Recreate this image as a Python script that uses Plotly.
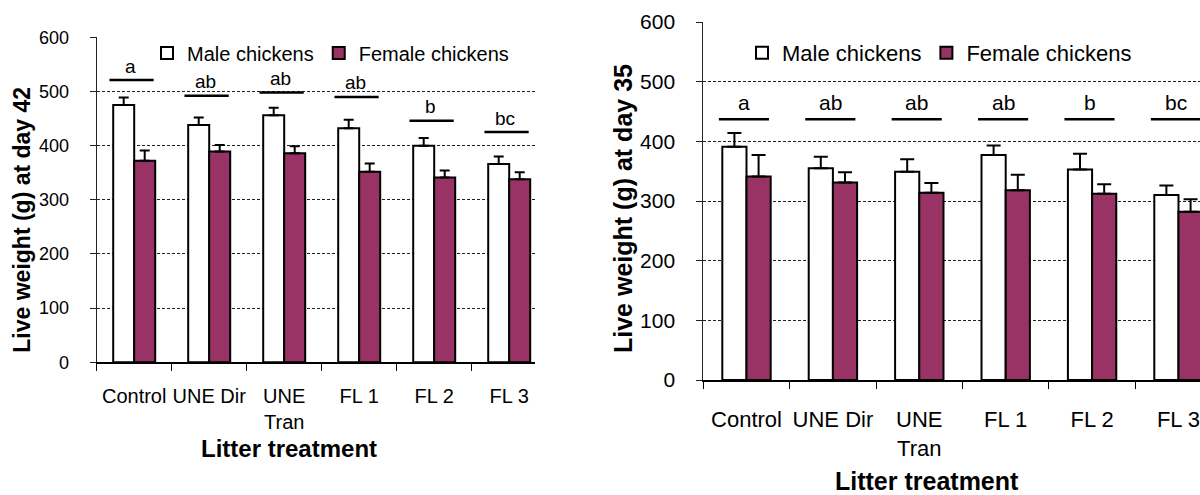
import plotly.graph_objects as go

# ---------------- data ----------------
categories = ["Control", "UNE Dir", "UNE<br>Tran", "FL 1", "FL 2", "FL 3"]
series_names = ["Male chickens", "Female chickens"]

# Day 42 (left panel)
male_42 = [475, 438, 456, 432, 400, 366]
male_42_err = [14, 14, 14, 16, 14, 14]
female_42 = [372, 389, 386, 352, 341, 338]
female_42_err = [19, 12, 13, 15, 13, 13]
letters_42 = ["a", "ab", "ab", "ab", "b", "bc"]
letter_level_42 = [521, 492, 498, 490, 446, 425]

# Day 35 (right panel)
male_35 = [391, 355, 349, 377, 353, 310]
male_35_err = [23, 19, 21, 16, 26, 16]
female_35 = [341, 331, 314, 318, 312, 282]
female_35_err = [36, 17, 16, 26, 16, 21]
letters_35 = ["a", "ab", "ab", "ab", "b", "bc"]
letter_level_35 = [437, 437, 437, 437, 437, 437]

y_ticks = [0, 100, 200, 300, 400, 500, 600]

# ---------------- styling ----------------
W, H = 1200, 495
FONT = "Liberation Sans, Arial, sans-serif"
FEMALE = "#993366"
MALE = "#FFFFFF"


def px_x(p):
    return p / W


def px_y(p):
    return 1 - p / H


fig = go.Figure()

panels = [
    dict(xa="x", ya="y", legend="legend", male=male_42, male_e=male_42_err,
         female=female_42, female_e=female_42_err, letters=letters_42,
         levels=letter_level_42, cap=5, lfont=19, off=(-0.33, 0.26), toff=-0.05, yshift=14),
    dict(xa="x2", ya="y2", legend="legend2", male=male_35, male_e=male_35_err,
         female=female_35, female_e=female_35_err, letters=letters_35,
         levels=letter_level_35, cap=7, lfont=21, off=(-0.32, 0.26), toff=-0.03, yshift=17),
]

for p in panels:
    for name, vals, errs, color in [
        (series_names[0], p["male"], p["male_e"], MALE),
        (series_names[1], p["female"], p["female_e"], FEMALE),
    ]:
        fig.add_trace(go.Bar(
            x=categories, y=vals, name=name,
            xaxis=p["xa"], yaxis=p["ya"], legend=p["legend"],
            marker=dict(color=color, line=dict(color="black", width=2)),
            error_y=dict(type="data", array=errs, arrayminus=[0] * len(errs),
                         symmetric=False, color="black", thickness=2, width=p["cap"]),
        ))
    # significance lines and letters
    for i, (lt, lv) in enumerate(zip(p["letters"], p["levels"])):
        fig.add_shape(type="line", xref=p["xa"], yref=p["ya"],
                      x0=i + p["off"][0], x1=i + p["off"][1], y0=lv, y1=lv,
                      line=dict(color="black", width=2.5))
        fig.add_annotation(xref=p["xa"], yref=p["ya"], x=i + p["toff"], y=lv,
                           text=lt, showarrow=False, yshift=p["yshift"],
                           yanchor="middle",
                           font=dict(family=FONT, size=p["lfont"], color="black"))

axis_common_y = dict(
    range=[0, 600], tickvals=y_ticks, showgrid=True, gridcolor="#222222",
    gridwidth=1, griddash="3px,2px", zeroline=False, showline=True,
    linecolor="#222222", linewidth=1, ticks="outside", ticklen=6,
    tickcolor="#222222", fixedrange=True, automargin=False,
)
axis_common_x = dict(
    type="category", showgrid=False, zeroline=False, showline=True,
    linecolor="black", linewidth=2, ticks="outside", ticklen=7,
    tickson="boundaries", tickcolor="black", fixedrange=True,
    tickangle=0, automargin=False,
)

fig.update_layout(
    width=W, height=H,
    margin=dict(l=0, r=0, t=0, b=0, pad=0, autoexpand=False),
    paper_bgcolor="white", plot_bgcolor="white",
    barmode="group", bargap=0.44, bargroupgap=0,
    font=dict(family=FONT, color="black"),
    xaxis=dict(**axis_common_x, domain=[px_x(96.7), px_x(535)],
               range=[-0.5, 5.344], anchor="y",
               tickfont=dict(size=20), ticklabelstandoff=15),
    yaxis=dict(**axis_common_y, domain=[px_y(362.3), px_y(37.3)], anchor="x",
               tickfont=dict(size=18), ticklabelstandoff=17),
    xaxis2=dict(**axis_common_x, domain=[px_x(703.3), 1.0],
                range=[-0.5, 5.249], anchor="y2",
                tickfont=dict(size=22), ticklabelstandoff=19),
    yaxis2=dict(**axis_common_y, domain=[px_y(380), px_y(22)], anchor="x2",
                tickfont=dict(size=21), ticklabelstandoff=17),
    legend=dict(orientation="h", x=px_x(147), y=px_y(53), xanchor="left",
                yanchor="middle", font=dict(size=20, family=FONT),
                bgcolor="rgba(0,0,0,0)", itemwidth=30,
                traceorder="normal"),
    legend2=dict(orientation="h", x=px_x(742), y=px_y(53), xanchor="left",
                 yanchor="middle", font=dict(size=22, family=FONT),
                 bgcolor="rgba(0,0,0,0)", itemwidth=30,
                 traceorder="normal"),
    showlegend=True,
)

# axis titles
fig.add_annotation(xref="paper", yref="paper", x=px_x(289), y=px_y(448),
                   text="<b>Litter treatment</b>", showarrow=False,
                   font=dict(size=24, family=FONT), xanchor="center", yanchor="middle")
fig.add_annotation(xref="paper", yref="paper", x=px_x(927), y=px_y(481),
                   text="<b>Litter treatment</b>", showarrow=False,
                   font=dict(size=25, family=FONT), xanchor="center", yanchor="middle")
fig.add_annotation(xref="paper", yref="paper", x=px_x(21.7), y=px_y(220),
                   text="<b>Live weight (g) at day 42</b>", showarrow=False, textangle=-90,
                   font=dict(size=23, family=FONT), xanchor="center", yanchor="middle")
fig.add_annotation(xref="paper", yref="paper", x=px_x(623), y=px_y(209),
                   text="<b>Live weight (g) at day 35</b>", showarrow=False, textangle=-90,
                   font=dict(size=25, family=FONT), xanchor="center", yanchor="middle")

fig.write_html("out.html")
